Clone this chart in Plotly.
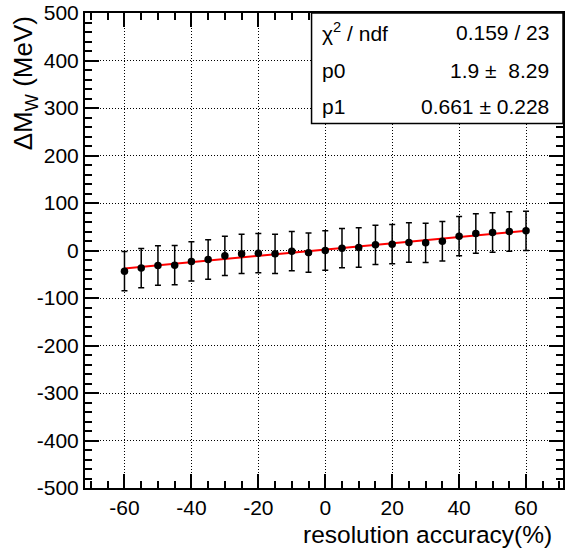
import plotly.graph_objects as go

# ---- data ----
x_vals = [-60, -55, -50, -45, -40, -35, -30, -25, -20, -15, -10, -5, 0,
          5, 10, 15, 20, 25, 30, 35, 40, 45, 50, 55, 60]
y_vals = [-43.5, -37.0, -31.6, -30.9, -23.0, -19.0, -11.2, -7.0, -5.6, -7.0, -1.4, -4.5, 0.0,
          4.9, 6.3, 11.9, 13.3, 16.8, 16.1, 19.6, 30.2, 35.8, 37.9, 40.0, 41.4]
y_errs = [41.45, 41.45, 41.45, 41.45, 41.45, 41.45, 41.45, 41.45, 41.45, 41.45, 41.45, 41.45, 41.45,
          41.45, 41.45, 41.45, 41.45, 41.45, 41.45, 41.45, 41.45, 41.45, 41.45, 41.45, 41.45]
fit_p0 = 1.9
fit_p1 = 0.661
fit_range = [-60, 60]
x_tickvals = [-60, -40, -20, 0, 20, 40, 60]
x_ticktext = ["-60", "-40", "-20", "0", "20", "40", "60"]
y_tickvals = [-500, -400, -300, -200, -100, 0, 100, 200, 300, 400, 500]
y_ticktext = ["-500", "-400", "-300", "-200", "-100", "0", "100", "200", "300", "400", "500"]
stats_labels = ["χ<sup>2</sup> / ndf", "p0", "p1"]
stats_values = ["0.159 / 23", "1.9 ±\u00a0\u00a08.29", "0.661 ± 0.228"]
x_title = "resolution accuracy(%)"
y_title = "ΔM<sub>W</sub> (MeV)"

FONT = "Liberation Sans, Arial, Helvetica, sans-serif"
XR = [-71.8, 71.05]
YR = [-500, 500]

fig = go.Figure()

fit_y = [fit_p0 + fit_p1 * xx for xx in fit_range]
fig.add_trace(go.Scatter(x=fit_range, y=fit_y, mode="lines",
                         line=dict(color="red", width=2), showlegend=False,
                         hoverinfo="skip"))

fig.add_trace(go.Scatter(
    x=x_vals, y=y_vals, mode="markers",
    marker=dict(color="black", size=7.5),
    error_y=dict(type="data", array=y_errs, visible=True, color="black",
                 thickness=1.5, width=3),
    showlegend=False))

minor_common = dict(ticks="inside", ticklen=7, tickcolor="black", tickwidth=1.5, showgrid=False)

axis_common = dict(
    showline=True, linecolor="black", linewidth=2, mirror="allticks",
    ticks="inside", tickcolor="black", tickwidth=1.5, ticklen=14,
    showgrid=True, gridcolor="black", griddash="1px,2px", gridwidth=1,
    zeroline=False,
    tickfont=dict(family=FONT, size=21, color="black"),
)

fig.update_layout(
    xaxis=dict(range=XR, tickmode="array", tickvals=x_tickvals, ticktext=x_ticktext,
               minor=dict(dtick=5, tick0=0, **minor_common), **axis_common),
    yaxis=dict(range=YR, tickmode="array", tickvals=y_tickvals, ticktext=y_ticktext,
               minor=dict(dtick=20, tick0=0, **minor_common), **axis_common),
    # mirrored axes for ticks on top / right (incl. minor ticks)
    xaxis2=dict(range=XR, overlaying="x", side="top", showticklabels=False,
                tickmode="array", tickvals=x_tickvals, ticks="inside", ticklen=14,
                tickwidth=1.5, tickcolor="black", showgrid=False, zeroline=False,
                showline=False, minor=dict(dtick=5, tick0=0, **minor_common)),
    yaxis2=dict(range=YR, overlaying="y", side="right", showticklabels=False,
                tickmode="array", tickvals=y_tickvals, ticks="inside", ticklen=14,
                tickwidth=1.5, tickcolor="black", showgrid=False, zeroline=False,
                showline=False, minor=dict(dtick=20, tick0=0, **minor_common)),
)
# invisible trace to activate the mirrored axes
fig.add_trace(go.Scatter(x=[0], y=[0], xaxis="x2", yaxis="y2", mode="markers",
                         marker=dict(opacity=0), showlegend=False, hoverinfo="skip"))

L, R, T, B = 85, 0, 13, 62
W, H = 565, 550
pw = W - L - R
ph = H - T - B

def px_x(p):
    return (p - L) / pw

def px_y(p):
    return (H - B - p) / ph

shapes = [dict(type="rect", xref="paper", yref="paper",
               x0=px_x(312.5), x1=1.0, y0=px_y(123.5), y1=1.0,
               line=dict(color="black", width=1.5), fillcolor="white", layer="above")]

annotations = []
row_y = [32, 70, 107]
for lab, val, ry in zip(stats_labels, stats_values, row_y):
    annotations.append(dict(xref="paper", yref="paper", x=px_x(321), y=px_y(ry),
                            xanchor="left", yanchor="middle", text=lab, showarrow=False,
                            font=dict(family=FONT, size=21, color="black")))
    annotations.append(dict(xref="paper", yref="paper", x=px_x(553), y=px_y(ry),
                            xanchor="right", yanchor="middle", text=val, showarrow=False,
                            font=dict(family=FONT, size=21, color="black")))

annotations.append(dict(xref="paper", yref="paper", x=px_x(556), y=px_y(534),
                        xanchor="right", yanchor="middle", text=x_title, showarrow=False,
                        font=dict(family=FONT, size=24.5, color="black")))
annotations.append(dict(xref="paper", yref="paper", x=px_x(24), y=px_y(14),
                        xanchor="center", yanchor="top", text=y_title, textangle=-90,
                        showarrow=False,
                        font=dict(family=FONT, size=26, color="black")))

fig.update_layout(
    width=W, height=H,
    margin=dict(l=L, r=R, t=T, b=B),
    paper_bgcolor="white", plot_bgcolor="white",
    shapes=shapes, annotations=annotations,
    showlegend=False,
)

fig.write_html("out.html")
